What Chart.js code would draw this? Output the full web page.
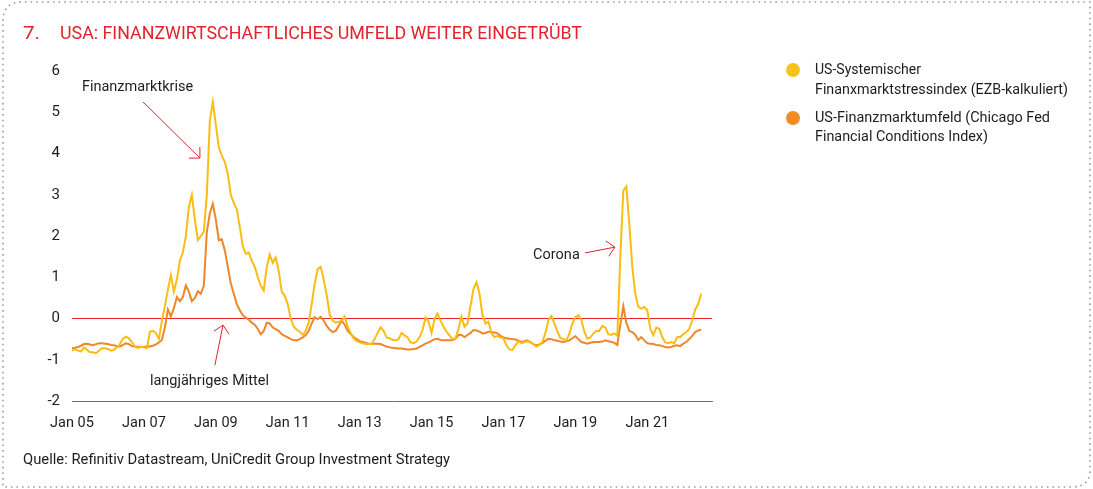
<!DOCTYPE html>
<html>
<head>
<meta charset="utf-8">
<script src="https://cdn.jsdelivr.net/npm/chart.js@4.4.1/dist/chart.umd.min.js"></script>
<style>
  html, body { margin: 0; padding: 0; background: #fff; }
  #wrap { position: relative; width: 1093px; height: 489px; overflow: hidden; font-family: Roboto, "Noto Sans", sans-serif; color: #1d1d1b; }
  #wrap canvas { position: absolute; left: 0; top: 0; }
  .t { position: absolute; white-space: nowrap; display: inline-block; transform-origin: 0 50%; line-height: 20px; }
  .title { color: #e3222b; font-size: 19px; }
  .leg { font-size: 14.5px; }
  .dot { position: absolute; width: 14px; height: 14px; border-radius: 50%; }
  svg { position: absolute; left: 0; top: 0; }
</style>
</head>
<body>
<div id="wrap">
  <svg width="1093" height="489">
    <path d="M3 21 Q3 2 22 2 L1090 2 L1090 470 Q1090 487 1072 487 L3 487 Z" fill="none" stroke="#9c9c9c" stroke-width="1.6" stroke-dasharray="1.6 4"/>
  </svg>
  <canvas id="chart" width="1093" height="489"></canvas>
  <span class="t title" style="left:23px; top:23px;" data-w="17">7.</span>
  <span class="t title" style="left:60px; top:23px;" data-w="522">USA: FINANZWIRTSCHAFTLICHES UMFELD WEITER EINGETRÜBT</span>
  <div class="dot" style="left:786px; top:63px; background:#f7c31b;"></div>
  <div class="dot" style="left:786px; top:111px; background:#f28a26;"></div>
  <span class="t leg" style="left:815px; top:60px;" data-w="106">US-Systemischer</span>
  <span class="t leg" style="left:815px; top:80px;" data-w="253">Finanxmarktstressindex (EZB-kalkuliert)</span>
  <span class="t leg" style="left:815px; top:108px;" data-w="235">US-Finanzmarktumfeld (Chicago Fed</span>
  <span class="t leg" style="left:815px; top:127px;" data-w="173">Financial Conditions Index)</span>
  <span class="t leg" style="left:23px; top:450px;" data-w="427">Quelle: Refinitiv Datastream, UniCredit Group Investment Strategy</span>
</div>
<script>
// monthly values, Jan 2005 .. Jul 2022
const stressIndex = [
  -0.78,-0.74,-0.78,-0.80,-0.70,-0.76,-0.82,-0.82,-0.84,-0.78,-0.72,-0.72,
  -0.74,-0.78,-0.76,-0.70,-0.62,-0.49,-0.44,-0.48,-0.57,-0.68,-0.72,-0.68,
  -0.70,-0.72,-0.32,-0.30,-0.35,-0.50,-0.05,0.30,0.70,1.05,0.65,0.95,
  1.40,1.60,2.00,2.70,3.00,2.40,1.90,2.00,2.10,3.00,4.80,5.25,
  4.70,4.15,3.95,3.80,3.50,3.00,2.80,2.65,2.22,1.75,1.57,1.60,
  1.40,1.25,1.00,0.80,0.68,1.25,1.55,1.35,1.48,1.15,0.65,0.55,
  0.35,0.00,-0.20,-0.27,-0.32,-0.40,-0.30,-0.10,0.35,0.85,1.20,1.25,
  0.95,0.57,0.10,-0.05,-0.10,-0.08,-0.05,0.05,-0.20,-0.35,-0.48,-0.55,
  -0.58,-0.60,-0.62,-0.62,-0.62,-0.50,-0.35,-0.22,-0.30,-0.46,-0.48,-0.52,
  -0.53,-0.50,-0.35,-0.41,-0.46,-0.58,-0.60,-0.56,-0.45,-0.28,0.02,-0.08,
  -0.35,0.00,0.12,-0.05,-0.20,-0.32,-0.41,-0.50,-0.48,-0.25,0.04,-0.20,
  -0.12,0.30,0.72,0.88,0.60,0.08,-0.12,-0.08,-0.35,-0.45,-0.42,-0.46,
  -0.48,-0.65,-0.75,-0.76,-0.65,-0.55,-0.60,-0.57,-0.55,-0.56,-0.63,-0.68,
  -0.64,-0.57,-0.35,-0.04,0.06,-0.12,-0.32,-0.47,-0.50,-0.53,-0.37,-0.12,
  0.03,0.08,-0.04,-0.32,-0.49,-0.46,-0.36,-0.30,-0.30,-0.18,-0.22,-0.38,
  -0.40,-0.36,-0.42,1.50,3.10,3.20,2.30,1.25,0.60,0.28,0.24,0.28,
  0.20,-0.25,-0.40,-0.22,-0.25,-0.45,-0.58,-0.60,-0.57,-0.60,-0.45,-0.45,
  -0.38,-0.33,-0.25,-0.05,0.22,0.35,0.60
];

const chicagoFed = [
  -0.72,-0.71,-0.69,-0.66,-0.62,-0.61,-0.63,-0.65,-0.62,-0.60,-0.60,-0.61,
  -0.62,-0.64,-0.65,-0.67,-0.68,-0.64,-0.60,-0.62,-0.67,-0.68,-0.69,-0.69,
  -0.69,-0.68,-0.68,-0.66,-0.63,-0.58,-0.52,-0.22,0.22,0.05,0.25,0.52,
  0.42,0.52,0.80,0.65,0.42,0.50,0.66,0.60,0.80,2.10,2.55,2.78,
  2.40,1.90,1.92,1.65,1.25,0.85,0.60,0.35,0.20,0.08,0.02,-0.03,
  -0.10,-0.15,-0.25,-0.38,-0.30,-0.10,-0.12,-0.22,-0.26,-0.30,-0.38,-0.42,
  -0.46,-0.50,-0.52,-0.53,-0.50,-0.46,-0.40,-0.30,-0.12,0.03,-0.02,0.04,
  -0.05,-0.18,-0.27,-0.33,-0.30,-0.18,-0.05,-0.15,-0.30,-0.38,-0.45,-0.50,
  -0.55,-0.57,-0.59,-0.61,-0.61,-0.61,-0.61,-0.62,-0.65,-0.68,-0.70,-0.71,
  -0.72,-0.73,-0.73,-0.74,-0.75,-0.75,-0.74,-0.73,-0.69,-0.65,-0.61,-0.58,
  -0.54,-0.50,-0.49,-0.52,-0.53,-0.53,-0.53,-0.52,-0.49,-0.40,-0.40,-0.45,
  -0.40,-0.35,-0.28,-0.29,-0.32,-0.36,-0.35,-0.32,-0.33,-0.34,-0.36,-0.42,
  -0.46,-0.48,-0.49,-0.50,-0.51,-0.54,-0.57,-0.55,-0.53,-0.58,-0.62,-0.65,
  -0.63,-0.60,-0.54,-0.49,-0.50,-0.53,-0.54,-0.56,-0.57,-0.55,-0.53,-0.48,
  -0.43,-0.50,-0.57,-0.59,-0.61,-0.59,-0.57,-0.57,-0.57,-0.56,-0.53,-0.55,
  -0.57,-0.59,-0.64,-0.15,0.30,-0.10,-0.30,-0.33,-0.40,-0.52,-0.45,-0.53,
  -0.60,-0.61,-0.62,-0.64,-0.65,-0.67,-0.69,-0.70,-0.69,-0.66,-0.65,-0.67,
  -0.61,-0.57,-0.50,-0.42,-0.33,-0.29,-0.27
];

const tickMonths = [0, 24, 48, 72, 96, 120, 144, 168, 192];
const tickLabels = ['Jan 05', 'Jan 07', 'Jan 09', 'Jan 11', 'Jan 13', 'Jan 15', 'Jan 17', 'Jan 19', 'Jan 21'];

// notes on the chart, in data coordinates (month index, value)
const notes = [
  { text: 'Finanzmarktkrise', x: 3.3, y: 5.61, from: [23.7, 5.25], to: [42.7, 3.89] },
  { text: 'langjähriges Mittel', x: 26.0, y: -1.52, from: [47.7, -1.13], to: [50.4, -0.16] },
  { text: 'Corona', x: 153.9, y: 1.54, from: [171.2, 1.59], to: [181.2, 1.73] }
];

const toPoints = arr => arr.map((v, i) => ({ x: i, y: v }));

const notesPlugin = {
  id: 'notes',
  afterDatasetsDraw(chart) {
    const { ctx, scales: { x, y } } = chart;
    ctx.save();
    ctx.font = '14.5px Roboto, sans-serif';
    ctx.fillStyle = '#1d1d1b';
    ctx.textBaseline = 'middle';
    ctx.strokeStyle = '#e3222b';
    ctx.lineWidth = 1;
    notes.forEach(n => {
      ctx.fillText(n.text, x.getPixelForValue(n.x), y.getPixelForValue(n.y));
      const x0 = x.getPixelForValue(n.from[0]), y0 = y.getPixelForValue(n.from[1]);
      const x1 = x.getPixelForValue(n.to[0]), y1 = y.getPixelForValue(n.to[1]);
      const a = Math.atan2(y1 - y0, x1 - x0);
      const len = 11;
      ctx.beginPath();
      ctx.moveTo(x0, y0);
      ctx.lineTo(x1, y1);
      ctx.moveTo(x1 - len * Math.cos(a - Math.PI / 4), y1 - len * Math.sin(a - Math.PI / 4));
      ctx.lineTo(x1, y1);
      ctx.lineTo(x1 - len * Math.cos(a + Math.PI / 4), y1 - len * Math.sin(a + Math.PI / 4));
      ctx.stroke();
    });
    ctx.restore();
  }
};

new Chart(document.getElementById('chart'), {
  type: 'line',
  data: {
    datasets: [
      {
        label: 'US-Systemischer Finanxmarktstressindex (EZB-kalkuliert)',
        data: toPoints(stressIndex),
        borderColor: '#fbbd14',
        borderWidth: 2,
        pointRadius: 0,
        tension: 0
      },
      {
        label: 'US-Finanzmarktumfeld (Chicago Fed Financial Conditions Index)',
        data: toPoints(chicagoFed),
        borderColor: '#f0862a',
        borderWidth: 2,
        pointRadius: 0,
        tension: 0
      }
    ]
  },
  options: {
    responsive: false,
    animation: false,
    layout: { padding: { top: 71, right: 381, bottom: 0, left: 0 } },
    plugins: { legend: { display: false }, tooltip: { enabled: false } },
    scales: {
      x: {
        type: 'linear',
        min: 0,
        max: 213.6,
        afterBuildTicks: axis => { axis.ticks = tickMonths.map(v => ({ value: v })); },
        afterFit: axis => { axis.height = 88; },
        grid: { display: false, drawTicks: false },
        border: { display: true, color: '#6f6f6f', width: 1 },
        ticks: {
          padding: 14,
          maxRotation: 0,
          autoSkip: false,
          color: '#1d1d1b',
          font: { family: 'Roboto', size: 14.5 },
          callback: v => tickLabels[tickMonths.indexOf(v)]
        }
      },
      y: {
        min: -2,
        max: 6,
        afterFit: axis => { axis.width = 72; },
        grid: {
          drawTicks: false,
          color: c => (c.tick && c.tick.value === 0 ? '#e3222b' : 'rgba(0,0,0,0)'),
          lineWidth: 1
        },
        border: { display: false },
        ticks: {
          stepSize: 1,
          padding: 12,
          color: '#1d1d1b',
          font: { family: 'Roboto', size: 15 }
        }
      }
    }
  },
  plugins: [notesPlugin]
});

// squeeze the condensed-looking texts to their measured widths
document.querySelectorAll('.t[data-w]').forEach(el => {
  const w = el.getBoundingClientRect().width;
  el.style.transform = 'scaleX(' + (parseFloat(el.dataset.w) / w) + ')';
});
</script>
</body>
</html>
